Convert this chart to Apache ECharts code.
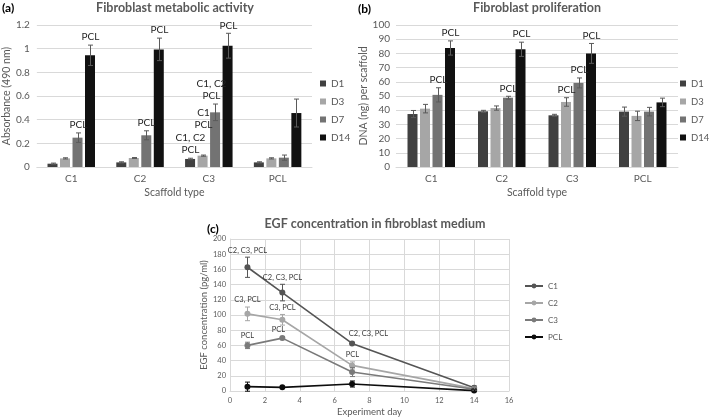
<!DOCTYPE html>
<html><head><meta charset="utf-8">
<script src="https://cdn.jsdelivr.net/npm/echarts@6/dist/echarts.min.js"></script>
<style>html,body{margin:0;padding:0;background:#fff}#c{width:709px;height:420px}</style>
</head><body><div id="c"></div><script>
// ---------- data ----------
const scaffolds = ['C1', 'C2', 'C3', 'PCL'];
const dayNames = ['D1', 'D3', 'D7', 'D14'];
const absTicks = [0, 0.2, 0.4, 0.6, 0.8, 1, 1.2];
const dnaTicks = [0, 10, 20, 30, 40, 50, 60, 70, 80, 90, 100];
const egfTicks = [0, 20, 40, 60, 80, 100, 120, 140, 160, 180, 200];
const dayTicks = [0, 2, 4, 6, 8, 10, 12, 14, 16];

// (a) absorbance (order C1, C2, C3, PCL)
const absD1 = [0.028, 0.039, 0.068, 0.039];
const absD3 = [0.073, 0.076, 0.096, 0.073];
const absD7 = [0.248, 0.268, 0.462, 0.079];
const absD14 = [0.944, 0.994, 1.025, 0.456];
const absErrD1 = [0.005, 0.005, 0.006, 0.005];
const absErrD3 = [0.005, 0.004, 0.005, 0.005];
const absErrD7 = [0.040, 0.038, 0.070, 0.022];
const absErrD14 = [0.086, 0.095, 0.105, 0.118];
const absNoteD1 = ['', '', 'C1, C2\nPCL', ''];
const absNoteD3 = ['', '', 'C1\nPCL', ''];
const absNoteD7 = ['PCL', 'PCL', 'C1, C2\nPCL', ''];
const absNoteD14 = ['PCL', 'PCL', 'PCL', ''];

// (b) DNA per scaffold
const dnaD1 = [37.3, 39.2, 36.4, 39.0];
const dnaD3 = [41.1, 41.5, 45.8, 36.0];
const dnaD7 = [50.8, 48.8, 59.2, 39.0];
const dnaD14 = [83.8, 82.9, 80.0, 45.5];
const dnaErrD1 = [2.5, 0.7, 0.7, 3.2];
const dnaErrD3 = [3.0, 1.5, 3.0, 3.3];
const dnaErrD7 = [5.0, 1.0, 3.5, 3.0];
const dnaErrD14 = [5.0, 5.0, 7.0, 3.0];
const dnaNoteD1 = ['', '', '', ''];
const dnaNoteD3 = ['', '', 'PCL', ''];
const dnaNoteD7 = ['PCL', 'PCL', 'PCL', ''];
const dnaNoteD14 = ['PCL', 'PCL', 'PCL', ''];

// (c) EGF concentration
const egfDays = [1, 3, 7, 14];
const egfC1 = [162.8, 129.5, 62.6, 4.4];
const egfC2 = [101.5, 93.7, 33.7, 3.1];
const egfC3 = [60.0, 69.6, 25.0, 2.2];
const egfPCL = [5.7, 4.8, 9.2, 0.5];
const egfErrC1 = [13.3, 10.9, 1.5, 2.0];
const egfErrC2 = [9.0, 7.0, 4.6, 2.0];
const egfErrC3 = [4.2, 2.0, 6.0, 2.0];
const egfErrPCL = [6.0, 1.0, 4.0, 1.0];
const egfNoteC1 = ['C2, C3, PCL', 'C2, C3, PCL', 'C2, C3, PCL', ''];
const egfNoteC2 = ['C3, PCL', 'C3, PCL', 'PCL', ''];
const egfNoteC3 = ['PCL', 'PCL', '', ''];
const egfNotePCL = ['', '', '', ''];

// ---------- style ----------
const FONT = 'Lato';
const TXT = '#595959';
const GRIDC = '#d9d9d9';
const barColors = ['#404040', '#a6a6a6', '#737373', '#111111'];
const lineColors = ['#555555', '#a6a6a6', '#7a7a7a', '#0d0d0d'];
const BAR_W = 10, BAR_SP = 12.5;

// layout tweaks for crowded annotations (px)
const noteTweakA = {'1-2': {dx: 0, dy: -22}, '2-2': {dx: -4, dy: 0}};
const noteTweakC = {'0-2': {dx: 16, dy: -2}, '2-1': {dx: -4, dy: 0}};

function barSeries(names, vals, grid) {
  return names.map((n, i) => ({
    type: 'bar', name: n, xAxisIndex: grid, yAxisIndex: grid,
    data: vals[i], barWidth: BAR_W, barGap: '25%',
    itemStyle: {color: barColors[i]}, z: 2
  }));
}

function errItems(vals, errs) {
  const out = [];
  vals.forEach((arr, s) => arr.forEach((v, c) => out.push([c, s, v - errs[s][c], v + errs[s][c]])));
  return out;
}

function barErrSeries(grid, vals, errs, notes, tweak) {
  const flatNotes = [];
  notes.forEach(arr => arr.forEach(t => flatNotes.push(t)));
  return {
    type: 'custom', xAxisIndex: grid, yAxisIndex: grid, z: 5, silent: true,
    data: errItems(vals, errs),
    renderItem: function (params, api) {
      const cat = api.value(0), s = api.value(1);
      const pHi = api.coord([cat, api.value(3)]);
      const pLo = api.coord([cat, api.value(2)]);
      const x = Math.round(pHi[0] + (s - 1.5) * BAR_SP) + 0.5;
      const st = {stroke: '#5a5a5a', lineWidth: 1};
      const ch = [
        {type: 'line', shape: {x1: x, y1: pHi[1], x2: x, y2: pLo[1]}, style: st},
        {type: 'line', shape: {x1: x - 2.5, y1: pHi[1], x2: x + 2.5, y2: pHi[1]}, style: st},
        {type: 'line', shape: {x1: x - 2.5, y1: pLo[1], x2: x + 2.5, y2: pLo[1]}, style: st}
      ];
      const note = flatNotes[params.dataIndex];
      if (note) {
        const tw = tweak[s + '-' + cat] || {dx: 0, dy: 0};
        ch.push({type: 'text', style: {text: note, x: x + tw.dx, y: pHi[1] - 2 + tw.dy,
          align: 'center', verticalAlign: 'bottom', fill: '#262626',
          font: '10px ' + FONT, lineHeight: 12}});
      }
      return {type: 'group', children: ch};
    }
  };
}

const egfVals = [egfC1, egfC2, egfC3, egfPCL];
const egfErrs = [egfErrC1, egfErrC2, egfErrC3, egfErrPCL];
const egfNotes = [egfNoteC1, egfNoteC2, egfNoteC3, egfNotePCL];
const egfItems = [], egfFlatNotes = [];
egfVals.forEach((arr, s) => arr.forEach((v, i) => {
  egfItems.push([egfDays[i], s, v - egfErrs[s][i], v + egfErrs[s][i], i]);
  egfFlatNotes.push(egfNotes[s][i]);
}));

const lineSeries = scaffolds.map((n, s) => ({
  type: 'line', name: n, xAxisIndex: 2, yAxisIndex: 2,
  data: egfDays.map((d, i) => [d, egfVals[s][i]]),
  symbol: 'circle', symbolSize: 6,
  lineStyle: {color: lineColors[s], width: 1.6},
  itemStyle: {color: lineColors[s]}, z: 3
}));

const egfErrSeries = {
  type: 'custom', xAxisIndex: 2, yAxisIndex: 2, z: 6, silent: true,
  data: egfItems,
  renderItem: function (params, api) {
    const s = api.value(1), i = api.value(4);
    const pHi = api.coord([api.value(0), api.value(3)]);
    const pLo = api.coord([api.value(0), api.value(2)]);
    const x = Math.round(pHi[0]) + 0.5;
    const st = {stroke: lineColors[s], lineWidth: 1};
    const ch = [
      {type: 'line', shape: {x1: x, y1: pHi[1], x2: x, y2: pLo[1]}, style: st},
      {type: 'line', shape: {x1: x - 2.5, y1: pHi[1], x2: x + 2.5, y2: pHi[1]}, style: st},
      {type: 'line', shape: {x1: x - 2.5, y1: pLo[1], x2: x + 2.5, y2: pLo[1]}, style: st}
    ];
    const note = egfFlatNotes[params.dataIndex];
    if (note) {
      const tw = noteTweakC[s + '-' + i] || {dx: 0, dy: 0};
      ch.push({type: 'text', style: {text: note, x: x + tw.dx, y: pHi[1] - 3 + tw.dy,
        align: 'center', verticalAlign: 'bottom', fill: '#3a3a3a',
        font: '7.5px ' + FONT}});
    }
    return {type: 'group', children: ch};
  }
};

const axisLbl = {fontFamily: FONT, color: TXT, fontSize: 10};
const nameStyle = {fontFamily: FONT, color: TXT, fontSize: 10.5};
const legText = {fontFamily: FONT, fontSize: 10, color: TXT, lineHeight: 11};

const option = {
  animation: false,
  textStyle: {fontFamily: FONT},
  title: [
    {text: 'Fibroblast metabolic activity', left: 175, top: 1, textAlign: 'center', padding: 0,
      textStyle: {fontFamily: FONT, fontSize: 12.5, fontWeight: 'bold', color: TXT}},
    {text: '(a)', left: 2, top: 2, padding: 0, textStyle: {fontFamily: FONT, fontSize: 12, fontWeight: 'bold', color: '#000'}},
    {text: 'Fibroblast proliferation', left: 537, top: 1, textAlign: 'center', padding: 0,
      textStyle: {fontFamily: FONT, fontSize: 12.5, fontWeight: 'bold', color: TXT}},
    {text: '(b)', left: 358, top: 3, padding: 0, textStyle: {fontFamily: FONT, fontSize: 12, fontWeight: 'bold', color: '#000'}},
    {text: 'EGF concentration in fibroblast medium', left: 375, top: 217, textAlign: 'center', padding: 0,
      textStyle: {fontFamily: FONT, fontSize: 12.5, fontWeight: 'bold', color: TXT}},
    {text: '(c)', left: 207, top: 223, padding: 0, textStyle: {fontFamily: FONT, fontSize: 12, fontWeight: 'bold', color: '#000'}}
  ],
  legend: [
    {data: dayNames, orient: 'vertical', left: 320, top: 78, itemWidth: 6, itemHeight: 6, itemGap: 7,
      icon: 'rect', padding: 0, textStyle: legText},
    {data: dayNames, orient: 'vertical', left: 680, top: 78, itemWidth: 6, itemHeight: 6, itemGap: 7,
      icon: 'rect', padding: 0, textStyle: {fontFamily: FONT, fontSize: 9.5, color: TXT, lineHeight: 11}},
    {data: scaffolds, orient: 'vertical', left: 524, top: 281, itemWidth: 18, itemHeight: 6, itemGap: 7,
      padding: 0, textStyle: {fontFamily: FONT, fontSize: 8, color: TXT, lineHeight: 10}}
  ],
  grid: [
    {left: 35, top: 25, width: 277, height: 142},
    {left: 396, top: 25, width: 282, height: 142},
    {left: 230, top: 239, width: 279, height: 152}
  ],
  xAxis: [
    {type: 'category', gridIndex: 0, data: scaffolds, axisTick: {show: false},
      axisLine: {lineStyle: {color: GRIDC}}, axisLabel: Object.assign({margin: 7}, axisLbl),
      name: 'Scaffold type', nameLocation: 'middle', nameGap: 20, nameTextStyle: nameStyle},
    {type: 'category', gridIndex: 1, data: scaffolds, axisTick: {show: false},
      axisLine: {lineStyle: {color: GRIDC}}, axisLabel: Object.assign({margin: 7}, axisLbl),
      name: 'Scaffold type', nameLocation: 'middle', nameGap: 20, nameTextStyle: nameStyle},
    {type: 'value', gridIndex: 2, min: dayTicks[0], max: dayTicks[dayTicks.length - 1], interval: 2,
      axisTick: {show: false}, axisLine: {lineStyle: {color: GRIDC}},
      splitLine: {show: true, lineStyle: {color: GRIDC}},
      axisLabel: {fontFamily: FONT, color: TXT, fontSize: 7.5, margin: 6},
      name: 'Experiment day', nameLocation: 'middle', nameGap: 16,
      nameTextStyle: {fontFamily: FONT, color: TXT, fontSize: 9.5}}
  ],
  yAxis: [
    {type: 'value', gridIndex: 0, min: absTicks[0], max: absTicks[absTicks.length - 1], interval: 0.2,
      axisLine: {show: false}, axisTick: {show: false},
      splitLine: {lineStyle: {color: GRIDC}}, axisLabel: Object.assign({margin: 7}, axisLbl),
      name: 'Absorbance (490 nm)', nameLocation: 'middle', nameGap: 22, nameTextStyle: nameStyle},
    {type: 'value', gridIndex: 1, min: dnaTicks[0], max: dnaTicks[dnaTicks.length - 1], interval: 10,
      axisLine: {show: false}, axisTick: {show: false},
      splitLine: {lineStyle: {color: GRIDC}}, axisLabel: Object.assign({margin: 6}, axisLbl),
      name: 'DNA (ng) per scaffold', nameLocation: 'middle', nameGap: 19, nameTextStyle: nameStyle},
    {type: 'value', gridIndex: 2, min: egfTicks[0], max: egfTicks[egfTicks.length - 1], interval: 20,
      axisLine: {show: true, lineStyle: {color: GRIDC}}, axisTick: {show: false},
      splitLine: {lineStyle: {color: GRIDC}},
      axisLabel: {fontFamily: FONT, color: TXT, fontSize: 7.5, margin: 4},
      name: 'EGF concentration (pg/ml)', nameLocation: 'middle', nameGap: 19,
      nameTextStyle: {fontFamily: FONT, color: TXT, fontSize: 9.5}}
  ],
  series: [].concat(
    barSeries(dayNames, [absD1, absD3, absD7, absD14], 0),
    [barErrSeries(0, [absD1, absD3, absD7, absD14], [absErrD1, absErrD3, absErrD7, absErrD14],
      [absNoteD1, absNoteD3, absNoteD7, absNoteD14], noteTweakA)],
    barSeries(dayNames, [dnaD1, dnaD3, dnaD7, dnaD14], 1),
    [barErrSeries(1, [dnaD1, dnaD3, dnaD7, dnaD14], [dnaErrD1, dnaErrD3, dnaErrD7, dnaErrD14],
      [dnaNoteD1, dnaNoteD3, dnaNoteD7, dnaNoteD14], {})],
    lineSeries,
    [egfErrSeries]
  )
};

const chart = echarts.init(document.getElementById('c'), null, {renderer: 'canvas'});
chart.setOption(option);
</script></body></html>
